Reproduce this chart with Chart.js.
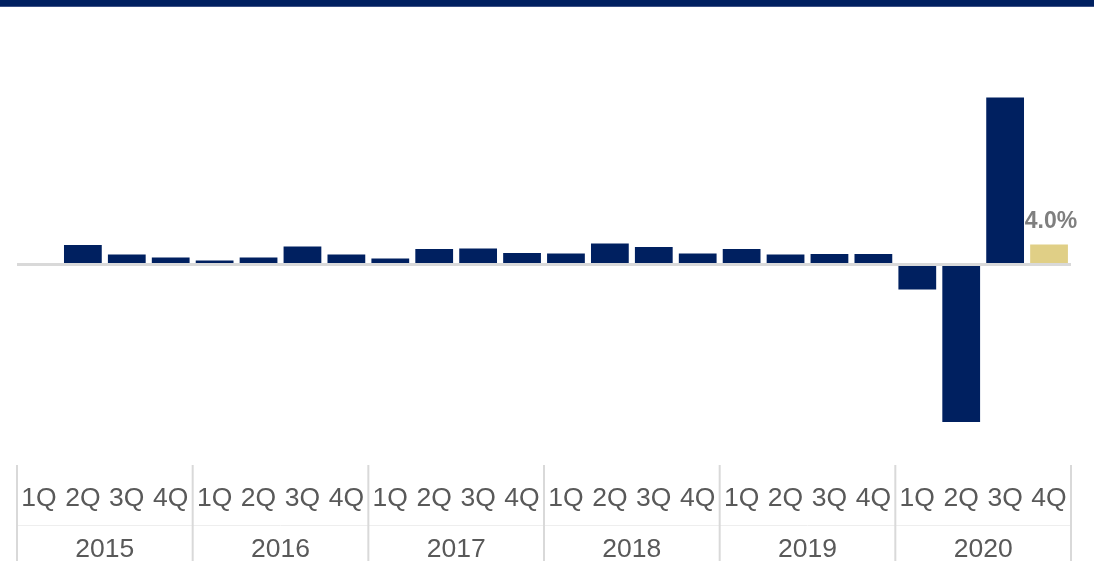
<!DOCTYPE html>
<html>
<head>
<meta charset="utf-8">
<title>Quarterly real GDP growth, 2015–2020</title>
<script src="https://cdn.jsdelivr.net/npm/chart.js@4/dist/chart.umd.min.js"></script>
<style>
  html, body { margin: 0; padding: 0; background: #ffffff; overflow: hidden; }
  #wrap { position: relative; width: 1094px; height: 561px; overflow: hidden; }
  #band { position: absolute; left: 0; top: 0; width: 1094px; height: 6px;
          background: #002060; border-bottom: 1px solid #3d5287; z-index: 2; }
  canvas { position: absolute; left: 0; top: 0; }
</style>
</head>
<body>
<div id="wrap">
  <div id="band"></div>
  <canvas id="chart" width="1094" height="580"></canvas>
</div>
<script>
// Quarter and year labels
const quarters = ['1Q', '2Q', '3Q', '4Q'];
const years = ['2015', '2016', '2017', '2018', '2019', '2020'];

// Annualized quarter-over-quarter growth, % (1Q 2015 ... 4Q 2020)
const growth2015 = [0.0, 3.9, 2.0, 1.4];
const growth2016 = [0.8, 1.4, 3.6, 2.0];
const growth2017 = [1.2, 3.1, 3.2, 2.3];
const growth2018 = [2.2, 4.2, 3.5, 2.2];
const growth2019 = [3.1, 2.0, 2.1, 2.1];
const growth2020 = [-5.0, -31.5, 33.4, 4.0];

const growth = [].concat(growth2015, growth2016, growth2017, growth2018, growth2019, growth2020);
const quarterLabels = years.flatMap(() => quarters);
const lastIndex = growth.length - 1;

const NAVY = '#002060';
const GOLD = '#e0cf86';
const GRID = '#d9d9d9';
const FONT = "'Liberation Sans', Arial, sans-serif";

// Labels the latest quarter with its value
const latestLabel = {
  id: 'latestLabel',
  afterDatasetsDraw(chart) {
    const bar = chart.getDatasetMeta(0).data[lastIndex];
    const v = growth[lastIndex];
    const ctx = chart.ctx;
    ctx.save();
    ctx.font = 'bold 23px ' + FONT;
    ctx.fillStyle = '#7f7f7f';
    ctx.textAlign = 'center';
    ctx.textBaseline = 'alphabetic';
    ctx.fillText(v.toFixed(1) + '%', bar.x + 2, bar.y - 17);
    ctx.restore();
  }
};

// Vertical dividers between years in the category axis area
const yearDividers = {
  id: 'yearDividers',
  afterDraw(chart) {
    const xs = chart.scales.x;
    const ctx = chart.ctx;
    const step = xs.width / growth.length;
    const top = chart.chartArea.bottom + 0.5;
    const bottom = chart.height;
    ctx.save();
    // faint rule between the quarter row and the year row
    ctx.strokeStyle = '#eeeeee';
    ctx.lineWidth = 1;
    ctx.beginPath();
    ctx.moveTo(xs.left, 525.5);
    ctx.lineTo(xs.right, 525.5);
    ctx.stroke();
    ctx.strokeStyle = GRID;
    ctx.lineWidth = 2;
    for (let g = 0; g <= years.length; g++) {
      const x = xs.left + g * quarters.length * step;
      ctx.beginPath();
      ctx.moveTo(x, top);
      ctx.lineTo(x, bottom);
      ctx.stroke();
    }
    ctx.restore();
  }
};

new Chart(document.getElementById('chart'), {
  type: 'bar',
  data: {
    labels: quarterLabels,
    datasets: [{
      data: growth,
      backgroundColor: (c) => c.dataIndex === lastIndex ? GOLD : NAVY,
      borderWidth: 0,
      categoryPercentage: 1.0,
      barPercentage: 0.86,
      xAxisID: 'x',
      yAxisID: 'y'
    }]
  },
  options: {
    responsive: false,
    animation: false,
    events: [],
    layout: { padding: { top: 64.5, left: 17, right: 23, bottom: 14.7 } },
    plugins: { legend: { display: false }, tooltip: { enabled: false } },
    scales: {
      x: {
        position: 'bottom',
        weight: 1,
        offset: true,
        grid: { display: false, drawTicks: false },
        border: { display: false },
        ticks: {
          color: '#595959',
          font: { family: FONT, size: 26.5 },
          padding: 18.6,
          maxRotation: 0,
          autoSkip: false
        }
      },
      xYear: {
        type: 'category',
        labels: years,
        position: 'bottom',
        weight: 2,
        offset: true,
        grid: { display: false, drawTicks: false },
        border: { display: false },
        ticks: {
          color: '#595959',
          font: { family: FONT, size: 26.5 },
          padding: 0,
          maxRotation: 0,
          autoSkip: false
        }
      },
      y: {
        min: -40,
        max: 40,
        z: 1,
        afterFit: (s) => { s.width = 0; },
        ticks: { display: false, stepSize: 40 },
        border: { display: false },
        grid: {
          drawTicks: false,
          lineWidth: 3,
          color: (c) => (c.tick && c.tick.value === 0) ? GRID : 'rgba(0,0,0,0)'
        }
      }
    }
  },
  plugins: [latestLabel, yearDividers]
});
</script>
</body>
</html>
